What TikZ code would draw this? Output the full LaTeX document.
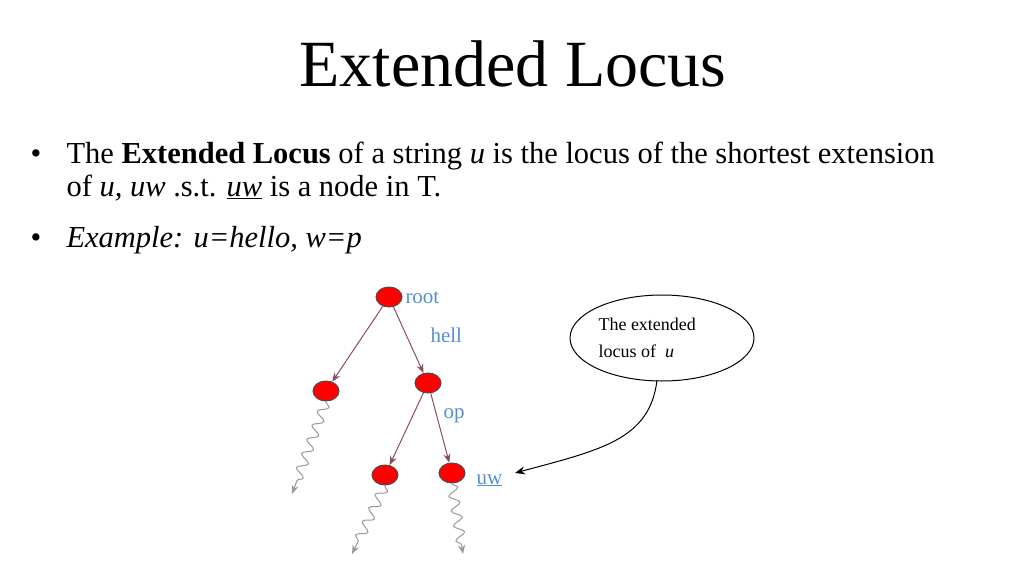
\documentclass[tikz,border=0pt]{standalone}
\usepackage{fontspec}
\setmainfont{Liberation Serif}
\usetikzlibrary{decorations.pathmorphing,arrows.meta,shapes.geometric}
\definecolor{lblue}{RGB}{85,142,213}
\definecolor{edgec}{RGB}{140,75,105}
\begin{document}
\begin{tikzpicture}[x=1pt,y=-1pt,line width=1pt,
  vtx/.style={ellipse,draw=black!70,fill=red,minimum width=26pt,minimum height=20pt,inner sep=0pt},
  edge/.style={edgec,-{Stealth[length=9pt,width=7pt]}},
  wavy/.style={gray!80,decorate,decoration={snake,amplitude=5pt,segment length=15pt,post length=8pt},-{Stealth[length=9pt,width=7pt]}},
  lbl/.style={lblue,font=\fontsize{21}{21}\selectfont,inner sep=0pt,anchor=base west},
  body/.style={anchor=base west,inner sep=0pt,font=\fontsize{30.5}{30.5}\selectfont}]
\useasboundingbox (0,0) rectangle (1024,576);
\node[inner sep=0pt,anchor=base,font=\fontsize{66}{66}\selectfont] (title) at (513,86) {Extended Locus};
\node[body] (b1) at (30,163) {•};
\node[body] (l1) at (66,163) {The \textbf{Extended Locus} of a string \textit{u} is the locus of the shortest extension};
\node[body] (l2) at (66,196) {of \textit{u, uw} .s.t. \underline{\textit{uw}} is a node in T.};
\node[body] (b2) at (30,247) {•};
\node[body] (l3) at (66,247) {\textit{Example: u=hello, w=p}};
\node[vtx] (r) at (389,297) {};
\node[vtx] (a) at (326,391) {};
\node[vtx] (b) at (428,383) {};
\node[vtx] (c) at (385,475) {};
\node[vtx] (d) at (452,473) {};
\draw[edge] (r) -- (a);
\draw[edge] (r) -- (b);
\draw[edge] (b) -- (c);
\draw[edge] (b) -- (d);
\coordinate (ea) at (292,494);
\coordinate (ec) at (352,554);
\coordinate (ed) at (463,554);
\draw[wavy] (a.south) -- (ea);
\draw[wavy] (c.south) -- (ec);
\draw[wavy] (d.south) -- (ed);
\node[lbl] (lr) at (405,303) {root};
\node[lbl] (lh) at (430,342) {hell};
\node[lbl] (lo) at (443,418) {op};
\node[lbl] (lu) at (476,484) {\underline{uw}};
\node[ellipse,draw,minimum width=184pt,minimum height=86pt] (call) at (662,338) {};
\node[anchor=west,align=left,inner sep=0pt,font=\fontsize{18}{27}\selectfont] (ct) at (598,338) {The extended\\locus of \ \textit{u}};
\coordinate (cs) at (657,380);
\coordinate (ue) at (515,473);
\draw[-{Stealth[length=10pt,width=8pt]}] (cs) .. controls (650,440) and (600,450) .. (ue);
\end{tikzpicture}
\end{document}
